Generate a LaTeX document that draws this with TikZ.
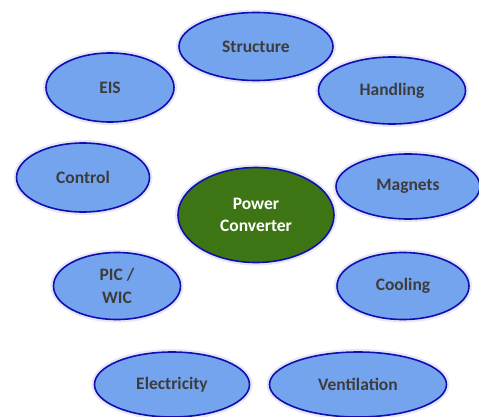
\documentclass[tikz,border=0pt]{standalone}
\usepackage{fontspec}
\setmainfont{Carlito}
\usetikzlibrary{shapes.geometric}
\definecolor{fillblue}{RGB}{117,164,238}
\definecolor{edgeblue}{RGB}{16,16,176}
\definecolor{centergreen}{RGB}{62,117,20}
\definecolor{txtgray}{RGB}{60,60,60}
\definecolor{glow}{RGB}{215,215,240}
\tikzset{
  bubble/.style={ellipse, draw=edgeblue, line width=1.6pt, fill=fillblue, inner sep=0pt,
    font=\fontsize{17.5}{22.5}\selectfont\bfseries, text=txtgray, align=center,
    preaction={draw=glow, line width=6pt, opacity=0.6}},
  hub/.style={bubble, fill=centergreen, text=white}
}
\begin{document}
\begin{tikzpicture}[x=1pt,y=-1pt]
\useasboundingbox (0,0) rectangle (479,417);
\fill[white] (0,0) rectangle (479,417);
\node[bubble, minimum width=154pt, minimum height=68pt] (structure) at (256,46.5) {Structure};
\node[bubble, minimum width=128pt, minimum height=69pt] (eis) at (110,87.5) {EIS};
\node[bubble, minimum width=147pt, minimum height=67pt] (handling) at (392,90.5) {Handling};
\node[bubble, minimum width=133pt, minimum height=69pt] (control) at (83,177.5) {Control};
\node[bubble, minimum width=144pt, minimum height=65pt] (magnets) at (408,186.5) {Magnets};
\node[hub, minimum width=156pt, minimum height=95pt] (pc) at (256,215) {Power\\Converter};
\node[bubble, minimum width=127pt, minimum height=67pt] (pic) at (117,286) {PIC /\\WIC};
\node[bubble, minimum width=132pt, minimum height=67pt] (cooling) at (403,286) {Cooling};
\node[bubble, minimum width=155pt, minimum height=65pt] (electricity) at (172,384.5) {Electricity};
\node[bubble, minimum width=177pt, minimum height=65pt] (ventilation) at (358,384.5) {Ventilation};
\end{tikzpicture}
\end{document}
